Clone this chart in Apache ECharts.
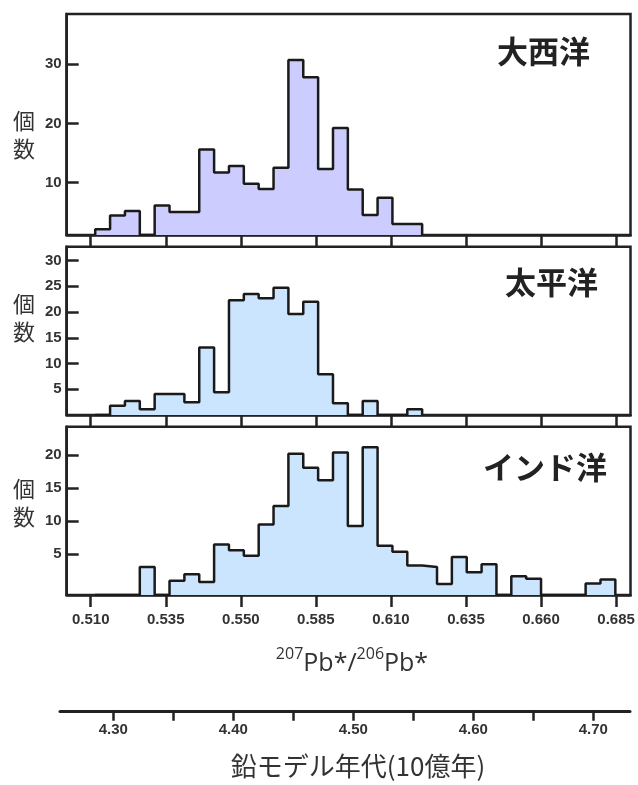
<!DOCTYPE html>
<html>
<head>
<meta charset="utf-8">
<script src="https://cdn.jsdelivr.net/npm/echarts@6/dist/echarts.min.js"></script>
<style>
html,body{margin:0;padding:0;background:#fff;}
#chart{width:638px;height:785px;}
</style>
</head>
<body>
<div id="chart"></div>
<script>
// ---- data ----
const tickValues = [0.510, 0.535, 0.560, 0.585, 0.610, 0.635, 0.660, 0.685];
const tickLabels = ['0.510', '0.535', '0.550', '0.585', '0.610', '0.635', '0.660', '0.685'];
const binStart = 0.5115;
const binWidth = 0.00495;
const panelNames = ['大西洋', '太平洋', 'インド洋'];
const atlantic = [2.1, 4.4, 5.2, 0, 6.1, 5.0, 5.0, 15.6, 11.7, 12.8, 9.8, 8.9, 12.5, 30.7, 27.8, 12.3, 19.2, 8.8, 4.5, 7.4, 3.0, 3.0];
const pacific = [0, 1.8, 2.7, 1.1, 4.1, 4.1, 2.5, 13.1, 4.4, 22.3, 23.5, 22.7, 24.7, 19.6, 22.0, 7.9, 2.3, 0, 2.7, 0, 0, 1.1];
const indian = [0, 0, 0, 3.1, 0, 1.0, 2.0, 0.8, 6.5, 5.6, 4.8, 9.5, 12.3, 20.2, 18.1, 16.2, 20.4, 9.3, 21.2, 6.3, 5.4, 3.3, 3.1, 0.5, 4.6, 2.3, 3.5, 0, 1.7, 1.3, 0, 0, 0, 0.6, 1.2];
const yTicksAtlantic = [10, 20, 30];
const yTicksPacific = [5, 10, 15, 20, 25, 30];
const yTicksIndian = [5, 10, 15, 20];
const ageTickValues = [4.30, 4.35, 4.40, 4.45, 4.50, 4.55, 4.60, 4.65, 4.70];
const ageLabelValues = [4.30, 4.40, 4.50, 4.60, 4.70];
const yLabel = '個\n数';
const xTitle = '{s|207}{n|Pb*/}{s|206}{n|Pb*}';
const ageTitle = '鉛モデル年代(10億年)';

// ---- layout / style ----
const INK = '#222';
const LBL = '#333';
const panels = [
  {top: 14, height: 221, yMin: 1.12, yMax: 38.5, ticks: yTicksAtlantic, data: atlantic, fill: '#ccccff', showLabels: false},
  {top: 246.7, height: 168.3, yMin: 0, yMax: 32.7, ticks: yTicksPacific, data: pacific, fill: '#cce5ff', showLabels: false},
  {top: 426.7, height: 168.3, yMin: -1.15, yMax: 24.3, ticks: yTicksIndian, data: indian, fill: '#cce5ff', showLabels: true}
];
const xMin = 0.5020, xMax = 0.6898;

function steps(counts, yMin) {
  const pts = [[binStart, yMin]];
  counts.forEach((c, k) => pts.push([binStart + k * binWidth, c > 0 ? c : yMin]));
  const end = binStart + counts.length * binWidth;
  const last = counts[counts.length - 1];
  pts.push([end, last > 0 ? last : yMin]);
  pts.push([end, yMin]);
  return pts;
}

const grids = [], xAxes = [], yAxes = [], series = [];
panels.forEach((p, i) => {
  grids.push({left: 66.7, top: p.top, width: 563.8, height: p.height, show: true,
    borderColor: INK, borderWidth: 2.5, backgroundColor: 'transparent'});
  xAxes.push({
    type: 'value', gridIndex: i, min: xMin, max: xMax,
    axisLine: {show: true, onZero: false, lineStyle: {color: INK, width: 2.5}},
    axisTick: {show: true, inside: false, length: 12, customValues: tickValues,
      lineStyle: {color: INK, width: 2.5}},
    axisLabel: {show: p.showLabels, customValues: tickValues, margin: 17,
      fontFamily: 'Liberation Sans', fontWeight: 'bold', fontSize: 15, color: LBL,
      formatter: v => {
        const idx = tickValues.findIndex(t => Math.abs(t - v) < 1e-6);
        return idx >= 0 ? tickLabels[idx] : '';
      }},
    splitLine: {show: false}
  });
  yAxes.push({
    type: 'value', gridIndex: i, min: p.yMin, max: p.yMax,
    axisLine: {show: true, onZero: false, lineStyle: {color: INK, width: 2.5}},
    axisTick: {show: true, inside: true, length: 12, customValues: p.ticks,
      lineStyle: {color: INK, width: 2.5}},
    axisLabel: {show: true, customValues: p.ticks, margin: 5,
      fontFamily: 'Liberation Sans', fontWeight: 'bold', fontSize: 15, color: LBL},
    splitLine: {show: false}
  });
  series.push({
    type: 'line', xAxisIndex: i, yAxisIndex: i, step: 'end',
    data: steps(p.data, p.yMin), showSymbol: false, symbol: 'none', clip: true,
    lineStyle: {color: '#1a1a1a', width: 2.5},
    areaStyle: {color: p.fill, opacity: 1, origin: 'start'},
    silent: true, animation: false
  });
});

// secondary (age) axis
grids.push({left: 60, top: 690, width: 570, height: 21.7, show: false});
xAxes.push({
  type: 'value', gridIndex: 3, min: 4.2556, max: 4.7306, position: 'bottom',
  axisLine: {show: true, onZero: false, lineStyle: {color: INK, width: 3}},
  axisTick: {show: true, inside: false, length: 9, customValues: ageTickValues,
    lineStyle: {color: INK, width: 2.5}},
  axisLabel: {show: true, customValues: ageLabelValues, margin: 11,
    fontFamily: 'Liberation Sans', fontWeight: 'bold', fontSize: 15, color: LBL,
    formatter: v => v.toFixed(2)},
  splitLine: {show: false}
});
yAxes.push({type: 'value', gridIndex: 3, show: false, min: 0, max: 1});
series.push({type: 'line', xAxisIndex: 3, yAxisIndex: 3, data: [], silent: true});

const graphic = [];
const titlePos = [{x: 590, y: 51}, {x: 598, y: 282}, {x: 607, y: 467}];
panelNames.forEach((name, i) => {
  graphic.push({type: 'text', x: titlePos[i].x, y: titlePos[i].y, silent: true,
    style: {text: name, fontFamily: 'Noto Sans CJK JP', fontWeight: 'bold', fontSize: 31,
      fill: INK, textAlign: 'right', textVerticalAlign: 'middle'}});
});
const yLabelPos = [135, 318, 503];
yLabelPos.forEach(y => {
  graphic.push({type: 'text', x: 24, y: y, silent: true,
    style: {text: yLabel, fontFamily: 'Noto Sans CJK JP', fontSize: 22, lineHeight: 28,
      fill: LBL, textAlign: 'center', textVerticalAlign: 'middle'}});
});
graphic.push({type: 'text', x: 352, y: 661, silent: true,
  style: {text: xTitle, textAlign: 'center', textVerticalAlign: 'middle', fill: LBL,
    rich: {
      n: {fontFamily: 'Open Sans', fontSize: 25, lineHeight: 30, verticalAlign: 'bottom', fill: LBL},
      s: {fontFamily: 'Open Sans', fontSize: 16, lineHeight: 16, verticalAlign: 'top', fill: LBL}
    }}});
graphic.push({type: 'text', x: 358, y: 766, silent: true,
  style: {text: ageTitle, fontFamily: 'Noto Sans CJK JP', fontSize: 26, fill: LBL,
    textAlign: 'center', textVerticalAlign: 'middle'}});

const chart = echarts.init(document.getElementById('chart'), null, {renderer: 'canvas'});
chart.setOption({
  animation: false,
  backgroundColor: '#fff',
  grid: grids, xAxis: xAxes, yAxis: yAxes, series: series, graphic: graphic
});
</script>
</body>
</html>
